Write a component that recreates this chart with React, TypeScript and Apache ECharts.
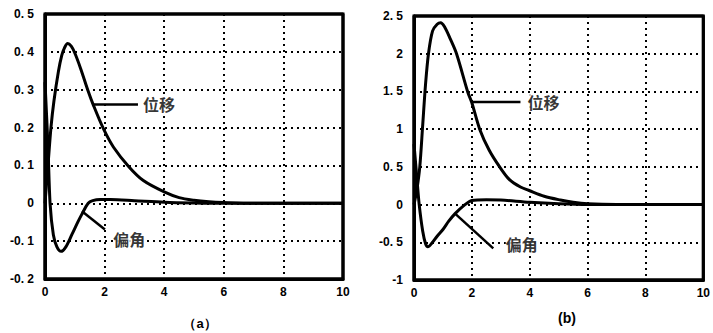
import React, { useEffect, useRef } from "react";
import * as echarts from "echarts";

// ---- data (a) ----
const dispA_t = [0, 0.1, 0.2, 0.3, 0.45, 0.56, 0.65, 0.76, 0.88, 1.0, 1.2, 1.45, 1.62, 1.96, 2.3, 2.82, 3.3, 4.0, 4.5, 5.0, 5.5, 6.0, 7.0, 10];
const dispA_v = [0, 0.1, 0.2, 0.27, 0.348, 0.39, 0.41, 0.422, 0.415, 0.397, 0.355, 0.296, 0.26, 0.197, 0.148, 0.096, 0.06, 0.03, 0.015, 0.008, 0.004, 0.002, 0, 0];
const angA_t = [0, 0.1, 0.17, 0.28, 0.4, 0.54, 0.7, 0.9, 1.1, 1.23, 1.45, 1.6, 1.85, 2.2, 3.0, 4.0, 5.0, 6.0, 10];
const angA_v = [0.32, 0.15, 0.0, -0.083, -0.115, -0.127, -0.115, -0.083, -0.05, -0.03, 0.0, 0.007, 0.01, 0.01, 0.007, 0.003, 0.001, 0, 0];

// ---- data (b) ----
const dispB_t = [0, 0.1, 0.2, 0.3, 0.4, 0.5, 0.64, 0.8, 0.92, 1.05, 1.25, 1.47, 1.86, 2.0, 2.27, 2.6, 2.96, 3.3, 3.68, 3.96, 4.5, 5.06, 5.5, 6.0, 7.0, 10];
const dispB_v = [0, 0.2, 0.5, 1.05, 1.6, 2.0, 2.3, 2.39, 2.41, 2.36, 2.2, 2.0, 1.49, 1.35, 1.0, 0.72, 0.5, 0.33, 0.233, 0.19, 0.11, 0.06, 0.03, 0.01, 0, 0];
const angB_t = [0, 0.1, 0.18, 0.3, 0.4, 0.48, 0.6, 0.8, 1.0, 1.2, 1.42, 1.7, 2.0, 2.5, 3.0, 4.0, 5.0, 6.0, 10];
const angB_v = [0.8, 0.35, 0.0, -0.35, -0.52, -0.56, -0.52, -0.42, -0.33, -0.22, -0.12, -0.02, 0.055, 0.065, 0.06, 0.03, 0.01, 0, 0];

// ---- axes ----
const xRange = [0, 10];
const xTicks = [0, 2, 4, 6, 8, 10];
const yRangeA = [-0.2, 0.5];
const yRangeB = [-1, 2.5];
const yTicksA = ["-0. 2", "-0. 1", "0", "0. 1", "0. 2", "0. 3", "0. 4", "0. 5"];
const yTicksB = ["-1", "-0. 5", "0", "0. 5", "1", "1. 5", "2", "2. 5"];

// ---- annotations (data coordinates) ----
const leaderDispA = [[1.61, 0.261], [3.12, 0.261]];
const leaderAngA = [[1.24, -0.021], [2.01, -0.069]];
const leaderDispB = [[2.0, 1.36], [3.68, 1.36]];
const leaderAngB = [[1.42, -0.12], [2.74, -0.58]];
const labelDisp = "位移";
const labelAng = "偏角";
const labelPosDispA = [3.22, 0.261];
const labelPosAngA = [2.22, -0.095];
const labelPosDispB = [3.85, 1.36];
const labelPosAngB = [3.1, -0.52];
const captions = ["（a）", "(b)"];

const zip = (t: number[], v: number[]) => t.map((x, i) => [x, v[i]]);
const box = (xr: number[], yr: number[]) => [
  [xr[0], yr[0]], [xr[1], yr[0]], [xr[1], yr[1]], [xr[0], yr[1]], [xr[0], yr[0]],
];

export default function App() {
  const ref = useRef<HTMLDivElement>(null);
  useEffect(() => {
    if (!ref.current) return;
    const chart = echarts.init(ref.current, undefined, { renderer: "svg" });
    const axisFont = () => ({ color: "#000", fontFamily: "Liberation Sans, Arial", fontWeight: "bold" as const, fontSize: 12 });
    const dots = () => ({ color: "#000", type: [2, 4] as any, width: 2 });
    const frame = () => ({ show: true, onZero: false, lineStyle: { color: "#000", width: 3 } });
    const mkX = (gi: number) => ({
      type: "value" as const,
      gridIndex: gi,
      min: xRange[0],
      max: xRange[1],
      interval: 2,
      axisLine: frame(),
      axisTick: { show: false },
      axisLabel: { ...axisFont(), margin: 7, formatter: (v: number) => (xTicks.includes(v) ? String(v) : "") },
      splitLine: { show: true, showMinLine: false, showMaxLine: false, lineStyle: dots() },
    });
    const mkY = (gi: number, yr: number[], interval: number, labels: string[]) => ({
      type: "value" as const,
      gridIndex: gi,
      min: yr[0],
      max: yr[1],
      interval,
      axisLine: frame(),
      axisTick: { show: false },
      axisLabel: {
        ...axisFont(),
        margin: 11,
        formatter: (v: number) => labels[Math.round((v - yr[0]) / interval)] ?? "",
      },
      splitLine: { show: true, showMinLine: false, showMaxLine: false, lineStyle: dots() },
    });
    const curve = (gi: number, data: number[][]) => ({
      type: "line" as const,
      xAxisIndex: gi,
      yAxisIndex: gi,
      data,
      smooth: 0.3,
      showSymbol: false,
      lineStyle: { color: "#000", width: 3 },
      z: 5,
    });
    const leader = (gi: number, data: number[][]) => ({
      type: "line" as const,
      xAxisIndex: gi,
      yAxisIndex: gi,
      data,
      showSymbol: false,
      lineStyle: { color: "#000", width: 2.5 },
      z: 5,
    });
    const frameSeries = (gi: number, data: number[][]) => ({
      type: "line" as const,
      xAxisIndex: gi,
      yAxisIndex: gi,
      data,
      symbol: "none",
      clip: false,
      silent: true,
      lineStyle: { color: "#000", width: 3 },
      z: 7,
    });
    const tag = (gi: number, pos: number[], text: string) => ({
      type: "scatter" as const,
      xAxisIndex: gi,
      yAxisIndex: gi,
      data: [pos],
      symbolSize: 0,
      label: {
        show: true,
        position: "right" as const,
        distance: 2,
        formatter: text,
        color: "#000",
        fontFamily: "Noto Sans CJK SC",
        fontWeight: "bold" as const,
        fontSize: 16,
        backgroundColor: "#fff",
      },
      z: 6,
    });
    chart.setOption({
      animation: false,
      grid: [
        { left: 45, top: 14, width: 298, height: 265, show: true, borderColor: "#000", borderWidth: 3 },
        { left: 414, top: 16, width: 301, height: 264, show: true, borderColor: "#000", borderWidth: 3 },
      ],
      xAxis: [mkX(0), mkX(1)],
      yAxis: [mkY(0, yRangeA, 0.1, yTicksA), mkY(1, yRangeB, 0.5, yTicksB)],
      series: [
        frameSeries(0, box(xRange, yRangeA)),
        frameSeries(1, box(xRange, yRangeB)),
        curve(0, zip(dispA_t, dispA_v)),
        curve(0, zip(angA_t, angA_v)),
        curve(1, zip(dispB_t, dispB_v)),
        curve(1, zip(angB_t, angB_v)),
        leader(0, leaderDispA),
        leader(0, leaderAngA),
        leader(1, leaderDispB),
        leader(1, leaderAngB),
        tag(0, labelPosDispA, labelDisp),
        tag(0, labelPosAngA, labelAng),
        tag(1, labelPosDispB, labelDisp),
        tag(1, labelPosAngB, labelAng),
      ],
      graphic: [
        { type: "text", x: 200, y: 323, style: { text: captions[0], fill: "#000", font: "bold 13px Liberation Sans, Arial", textAlign: "center", textVerticalAlign: "middle" } },
        { type: "text", x: 567, y: 318, style: { text: captions[1], fill: "#000", font: "bold 14px Liberation Sans, Arial", textAlign: "center", textVerticalAlign: "middle" } },
      ],
    });
    return () => chart.dispose();
  }, []);
  return <div ref={ref} style={{ width: 713, height: 333, position: "absolute", left: 0, top: 0 }} />;
}
